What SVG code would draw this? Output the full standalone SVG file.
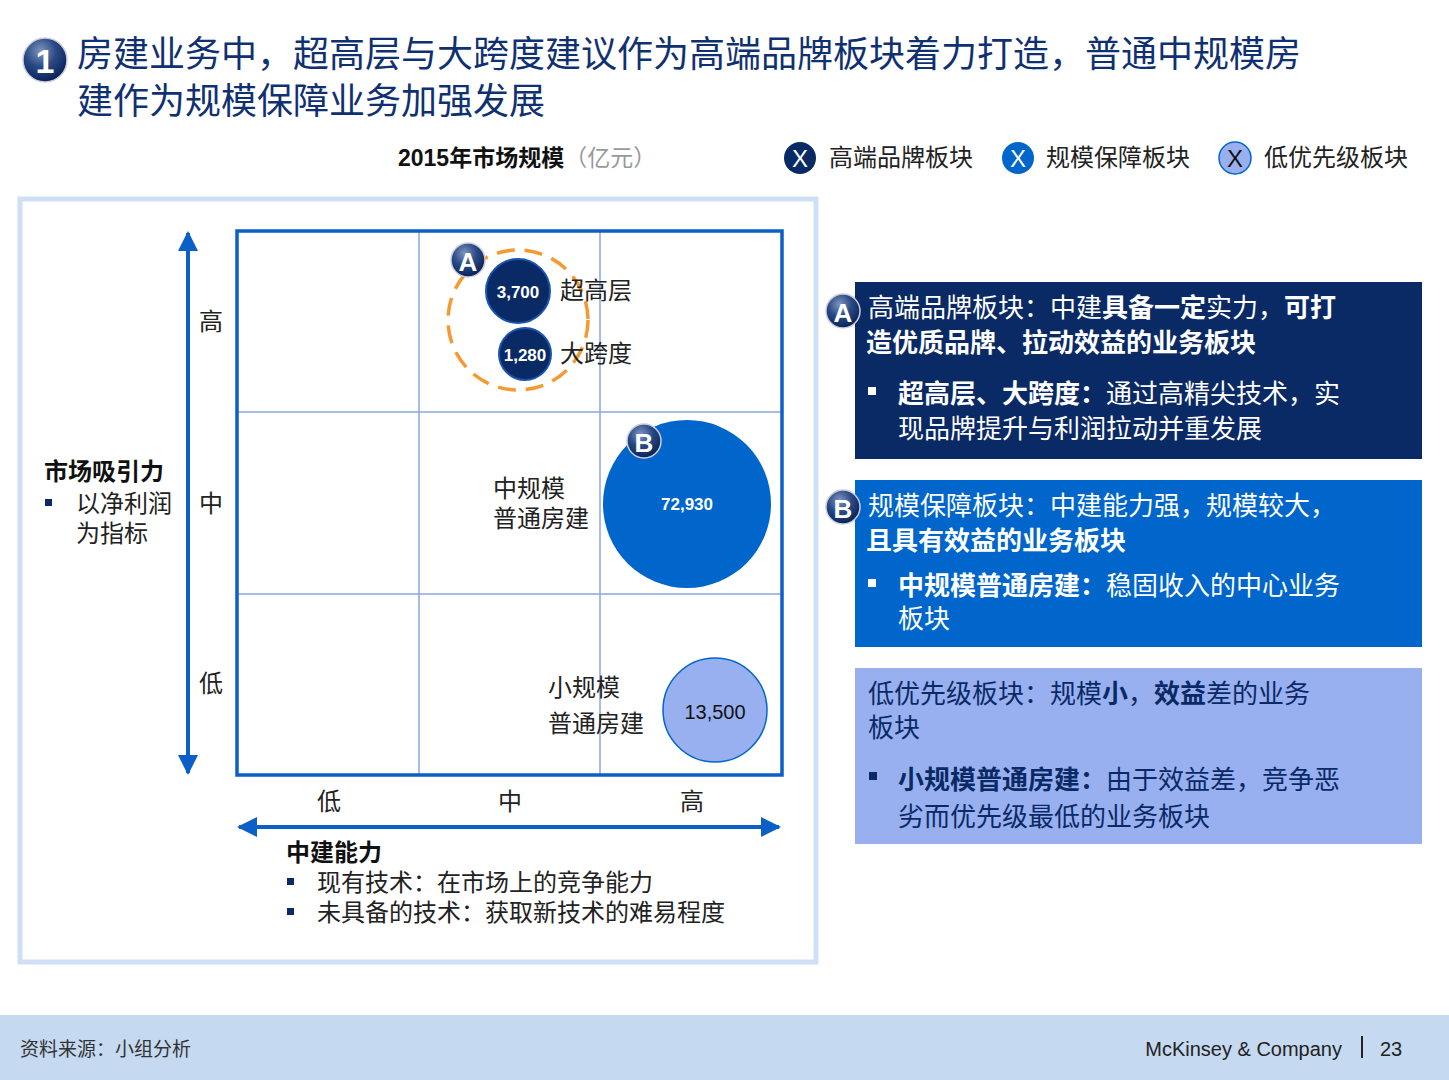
<svg xmlns="http://www.w3.org/2000/svg" width="1449" height="1080" viewBox="0 0 1449 1080">
<defs>
<radialGradient id="badge" cx="40%" cy="30%" r="70%"><stop offset="0" stop-color="#7f95c0"/><stop offset="0.5" stop-color="#2a4a85"/><stop offset="1" stop-color="#0a2358"/></radialGradient>
<marker id="ar" viewBox="0 0 10 10" refX="9" refY="5" markerWidth="5" markerHeight="5" orient="auto-start-reverse"><path d="M0,0L10,5L0,10z" fill="#0b5fc6"/></marker>
<style>
text{font-family:"Liberation Sans","Noto Sans CJK SC",sans-serif}
.t{font-size:36px;fill:#0f3172}
.b{font-size:24px;fill:#222}
.w{fill:#fff}
.bd{font-weight:bold}
.g{stroke:#8ba6e0;stroke-width:1.5}
.bl{font-size:17px;fill:#fff;font-weight:bold;font-family:"Liberation Sans",sans-serif}
.bt{font-size:26px;fill:#fff}
.bt2{font-size:26px;fill:#0a2a66}
</style>
</defs>
<rect width="1449" height="1080" fill="#fff"/>
<g id="title">
<circle cx="45" cy="60" r="22" fill="url(#badge)" stroke="#ccd" stroke-width="1.5"/>
<text x="45" y="73" text-anchor="middle" font-size="34" font-weight="bold" fill="#fff">1</text>
<text class="t" x="77" y="67">房建业务中，超高层与大跨度建议作为高端品牌板块着力打造，普通中规模房</text>
<text class="t" x="77" y="114">建作为规模保障业务加强发展</text>
</g>
<text x="398" y="166" font-size="23" font-weight="bold" fill="#111">2015年市场规模<tspan font-weight="normal" fill="#999">（亿元）</tspan></text>
<g id="legend">
<circle cx="800" cy="158" r="16" fill="#0a2a66"/><text x="800" y="167" text-anchor="middle" font-size="24" fill="#fff">X</text>
<text class="b" x="829" y="166">高端品牌板块</text>
<circle cx="1018" cy="158" r="16" fill="#0066cc"/><text x="1018" y="167" text-anchor="middle" font-size="24" fill="#fff">X</text>
<text class="b" x="1046" y="166">规模保障板块</text>
<circle cx="1235" cy="158" r="16" fill="#99b0f0" stroke="#0066cc" stroke-width="1.5"/><text x="1235" y="167" text-anchor="middle" font-size="24" fill="#111">X</text>
<text class="b" x="1264" y="166">低优先级板块</text>
</g>
<rect x="20" y="199" width="796" height="763" fill="none" stroke="#cfe0f6" stroke-width="5"/>
<g id="matrix">
<line class="g" x1="419" y1="231" x2="419" y2="775"/><line class="g" x1="600" y1="231" x2="600" y2="775"/>
<line class="g" x1="237" y1="412" x2="782" y2="412"/><line class="g" x1="237" y1="594" x2="782" y2="594"/>
<rect x="237" y="231" width="545" height="544" fill="none" stroke="#0b5fc6" stroke-width="3.5"/>
</g>
<g id="connectors">
<line x1="188" y1="233" x2="188" y2="773" stroke="#0b5fc6" stroke-width="4" marker-start="url(#ar)" marker-end="url(#ar)"/>
<line x1="239" y1="827" x2="779" y2="827" stroke="#0b5fc6" stroke-width="4" marker-start="url(#ar)" marker-end="url(#ar)"/>
</g>
<g id="axes">
<text class="b" x="211" y="330" text-anchor="middle">高</text>
<text class="b" x="211" y="512" text-anchor="middle">中</text>
<text class="b" x="211" y="692" text-anchor="middle">低</text>
<text class="b" x="329" y="810" text-anchor="middle">低</text>
<text class="b" x="510" y="810" text-anchor="middle">中</text>
<text class="b" x="692" y="810" text-anchor="middle">高</text>
<text x="44" y="480" font-size="24" font-weight="bold" fill="#111">市场吸引力</text>
<rect x="45" y="499" width="7" height="7" fill="#0a2a66"/>
<text class="b" x="76" y="512">以净利润</text><text class="b" x="76" y="542">为指标</text>
<text x="286" y="861" font-size="24" font-weight="bold" fill="#111">中建能力</text>
<rect x="287" y="878" width="7" height="7" fill="#0a2a66"/><text class="b" x="317" y="891">现有技术：在市场上的竞争能力</text>
<rect x="287" y="908" width="7" height="7" fill="#0a2a66"/><text class="b" x="317" y="921">未具备的技术：获取新技术的难易程度</text>
</g>
<g id="groupA">
<circle cx="518" cy="320" r="70" fill="none" stroke="#f59a30" stroke-width="3.5" stroke-dasharray="18 10"/>
<circle cx="518" cy="291" r="32" fill="#0a2a66" stroke="#1a55b0" stroke-width="2"/>
<text class="bl" x="518" y="298" text-anchor="middle">3,700</text>
<text class="b" x="560" y="299">超高层</text>
<circle cx="525" cy="354" r="26" fill="#0a2a66" stroke="#1a55b0" stroke-width="2"/>
<text class="bl" x="525" y="361" text-anchor="middle">1,280</text>
<text class="b" x="560" y="362">大跨度</text>
<circle cx="468" cy="260" r="17" fill="url(#badge)" stroke="#ccd" stroke-width="1.5"/>
<text x="468" y="271" text-anchor="middle" font-size="26" font-weight="bold" fill="#fff">A</text>
</g>
<g id="groupB">
<circle cx="687" cy="504" r="84" fill="#0066cc"/>
<text class="bl" x="687" y="510" text-anchor="middle" font-size="19">72,930</text>
<text class="b" x="493" y="497">中规模</text><text class="b" x="493" y="527">普通房建</text>
<circle cx="644" cy="441" r="17" fill="url(#badge)" stroke="#ccd" stroke-width="1.5"/>
<text x="644" y="452" text-anchor="middle" font-size="26" font-weight="bold" fill="#fff">B</text>
</g>
<g id="groupC">
<circle cx="715" cy="710" r="52" fill="#99b0f0" stroke="#0066cc" stroke-width="1.5"/>
<text x="715" y="719" text-anchor="middle" font-size="20" fill="#111">13,500</text>
<text class="b" x="548" y="696">小规模</text><text class="b" x="548" y="732">普通房建</text>
</g>
<g id="boxA">
<rect x="855" y="282" width="567" height="177" fill="#0a2a66"/>
<text class="bt" x="868" y="317">高端品牌板块：中建<tspan class="bd">具备一定</tspan>实力，<tspan class="bd">可打</tspan></text>
<text class="bt bd" x="866" y="352">造优质品牌、拉动效益的业务板块</text>
<rect x="868" y="387" width="8" height="8" fill="#fff"/>
<text class="bt" x="898" y="403"><tspan class="bd">超高层、大跨度：</tspan>通过高精尖技术，实</text>
<text class="bt" x="898" y="438">现品牌提升与利润拉动并重发展</text>
<circle cx="843" cy="311" r="17" fill="url(#badge)" stroke="#ccd" stroke-width="1.5"/>
<text x="843" y="322" text-anchor="middle" font-size="26" font-weight="bold" fill="#fff">A</text>
</g>
<g id="boxB">
<rect x="855" y="480" width="567" height="167" fill="#0066cc"/>
<text class="bt" x="868" y="515">规模保障板块：中建能力强，规模较大，</text>
<text class="bt bd" x="866" y="550">且具有效益的业务板块</text>
<rect x="868" y="579" width="8" height="8" fill="#fff"/>
<text class="bt" x="898" y="595"><tspan class="bd">中规模普通房建：</tspan>稳固收入的中心业务</text>
<text class="bt" x="898" y="628">板块</text>
<circle cx="843" cy="507" r="17" fill="url(#badge)" stroke="#ccd" stroke-width="1.5"/>
<text x="843" y="518" text-anchor="middle" font-size="26" font-weight="bold" fill="#fff">B</text>
</g>
<g id="boxC">
<rect x="855" y="668" width="567" height="176" fill="#99b0f0"/>
<text class="bt2" x="868" y="703">低优先级板块：规模<tspan class="bd">小</tspan>，<tspan class="bd">效益</tspan>差的业务</text>
<text class="bt2" x="868" y="737">板块</text>
<rect x="869" y="772" width="8" height="8" fill="#0a2a66"/>
<text class="bt2" x="898" y="789"><tspan class="bd">小规模普通房建：</tspan>由于效益差，竞争恶</text>
<text class="bt2" x="898" y="826">劣而优先级最低的业务板块</text>
</g>
<g id="footer">
<rect x="0" y="1015" width="1449" height="65" fill="#c5d9f1"/>
<text x="20" y="1056" font-size="19" fill="#333">资料来源：小组分析</text>
<text x="1342" y="1056" text-anchor="end" font-size="20" fill="#222">McKinsey &amp; Company</text>
<line x1="1362" y1="1036" x2="1362" y2="1058" stroke="#222" stroke-width="2"/>
<text x="1380" y="1056" font-size="20" fill="#222">23</text>
</g>
</svg>
